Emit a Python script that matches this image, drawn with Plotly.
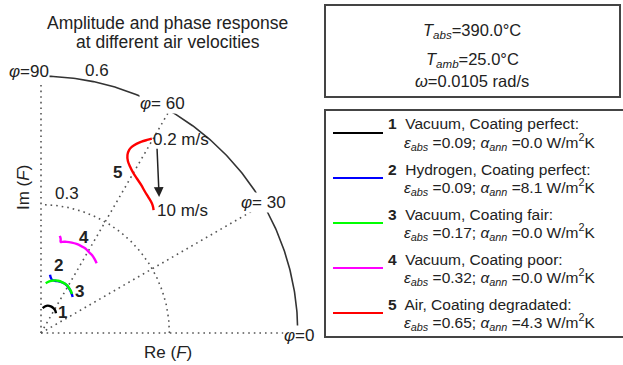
import numpy as np
import plotly.graph_objects as go

# ---------------- data ----------------
# Complex response F (Re, Im) for each case along increasing air velocity
re1 = [0.004, 0.009, 0.016, 0.023, 0.029, 0.033, 0.035]
im1 = [0.058, 0.062, 0.064, 0.062, 0.058, 0.053, 0.046]

re2 = [0.021, 0.025, 0.033, 0.044, 0.056, 0.066, 0.072, 0.074]
im2 = [0.136, 0.125, 0.122, 0.120, 0.115, 0.104, 0.091, 0.084]

re3 = [0.011, 0.018, 0.025, 0.033, 0.040, 0.049, 0.056, 0.062, 0.066, 0.070, 0.072]
im3 = [0.116, 0.120, 0.122, 0.123, 0.122, 0.119, 0.115, 0.110, 0.104, 0.098, 0.091]

re4 = [0.044, 0.046, 0.046, 0.051, 0.060, 0.072, 0.083, 0.094, 0.103, 0.111, 0.119, 0.125, 0.130]
im4 = [0.227, 0.220, 0.213, 0.213, 0.213, 0.211, 0.208, 0.203, 0.198, 0.190, 0.182, 0.173, 0.163]

re5 = [0.259, 0.248, 0.235, 0.223, 0.212, 0.206, 0.202, 0.203, 0.208, 0.215, 0.224, 0.234, 0.243, 0.251, 0.259, 0.262, 0.263]
im5 = [0.454, 0.451, 0.447, 0.442, 0.435, 0.428, 0.416, 0.402, 0.389, 0.375, 0.361, 0.346, 0.330, 0.317, 0.303, 0.294, 0.287]

case_ids = [1, 2, 3, 4, 5]
media = ["Vacuum", "Hydrogen", "Vacuum", "Vacuum", "Air"]
coating = ["perfect", "perfect", "fair", "poor", "degradated"]
eps_abs = [0.09, 0.09, 0.17, 0.32, 0.65]
alpha_ann = [0.0, 8.1, 0.0, 0.0, 4.3]
colors = ["#000000", "#0000ff", "#00ff00", "#ff00ff", "#ff0000"]

grid_radii = [0.3]
outer_radius = 0.6
grid_angles = [0, 30, 60, 90]

T_abs = 390.0
T_amb = 25.0
omega = 0.0105

# ---------------- figure ----------------
W, H = 623, 365
FONT = "Arial, Liberation Sans, sans-serif"
TXT = "#222222"
GRID = "#555555"

def px(x):
    return x / W

def py(y):
    return 1 - y / H

fig = go.Figure()

# grid: dotted radial lines
for a in grid_angles:
    t = np.deg2rad(a)
    fig.add_trace(go.Scatter(x=[0, outer_radius * np.cos(t)], y=[0, outer_radius * np.sin(t)],
                             mode="lines", line=dict(color=GRID, width=1.6, dash="1.6px,4px"),
                             hoverinfo="skip", showlegend=False))
# dotted circle(s)
th = np.linspace(0, np.pi / 2, 200)
for r in grid_radii:
    fig.add_trace(go.Scatter(x=r * np.cos(th), y=r * np.sin(th), mode="lines",
                             line=dict(color=GRID, width=1.6, dash="1.6px,4px"),
                             hoverinfo="skip", showlegend=False))
# solid outer arc
fig.add_trace(go.Scatter(x=outer_radius * np.cos(th), y=outer_radius * np.sin(th), mode="lines",
                         line=dict(color="#333333", width=1.6), hoverinfo="skip", showlegend=False))

# curves
for re_, im_, c in zip([re1, re2, re3, re4, re5], [im1, im2, im3, im4, im5], colors):
    fig.add_trace(go.Scatter(x=re_, y=im_, mode="lines", line=dict(color=c, width=2.4, shape="spline"),
                             showlegend=False))

ann = []

def dlabel(x, y, text, size=17, bold=False, bg=None, xanchor="center"):
    t = f"<b>{text}</b>" if bold else text
    d = dict(x=x, y=y, xref="x", yref="y", text=t, showarrow=False, xanchor=xanchor, yanchor="middle",
             font=dict(family=FONT, size=size, color=TXT))
    if bg:
        d["bgcolor"] = bg
        d["borderpad"] = 0
    ann.append(d)

phi = "<i>φ</i>"
dlabel(-0.028, 0.612, f"{phi}=90", bg="white")
dlabel(0.131, 0.614, "0.6")
dlabel(0.285, 0.537, f"{phi}= 60", bg="white")
dlabel(0.061, 0.327, "0.3")
dlabel(0.519, 0.305, f"{phi}= 30", bg="white")
dlabel(0.603, -0.005, f"{phi}=0", bg="white")

# case number labels
lab_pos = [(0.051, 0.047), (0.040, 0.157), (0.091, 0.096), (0.100, 0.222), (0.178, 0.376)]
for (lx, ly), cid in zip(lab_pos, case_ids):
    dlabel(lx, ly, str(cid), bold=True)

# velocity labels
dlabel(0.257, 0.451, "0.2 m/s", xanchor="left")
dlabel(0.267, 0.287, "10 m/s", xanchor="left")

# arrow
ann.append(dict(x=0.276, y=0.318, ax=0.271, ay=0.434, xref="x", yref="y", axref="x", ayref="y",
                showarrow=True, arrowhead=2, arrowsize=1.3, arrowwidth=1.5, arrowcolor="#222222", text=""))

# title & axis titles
def plabel(x, y, text, size=17, angle=0):
    ann.append(dict(x=px(x), y=py(y), xref="paper", yref="paper", text=text, textangle=angle,
                    xanchor="center", yanchor="middle", showarrow=False,
                    font=dict(family=FONT, size=size, color=TXT)))

plabel(167.5, 23, "Amplitude and phase response", size=17.5)
plabel(167.5, 42, "at different air velocities", size=17.5)
plabel(23, 188, "Im (<i>F</i>)", angle=-90)
plabel(168, 352, "Re (<i>F</i>)")

shapes = []
# parameter box
shapes.append(dict(type="rect", xref="paper", yref="paper", x0=px(325), x1=px(620), y0=py(5), y1=py(97),
                   line=dict(color="#444444", width=2), fillcolor="white", layer="below"))
pb = [f"<i>T</i><sub><i>abs</i></sub>={T_abs:.1f}°C",
      f"<i>T</i><sub><i>amb</i></sub>={T_amb:.1f}°C",
      f"<i>ω</i>={omega:.4f} rad/s"]
for txt, yy in zip(pb, [31, 60, 81]):
    plabel(472, yy, txt, size=16.5)

# legend box
shapes.append(dict(type="rect", xref="paper", yref="paper", x0=px(325), x1=px(640), y0=py(110), y1=py(337),
                   line=dict(color="#444444", width=2), fillcolor="white", layer="below"))
for i in range(5):
    yl = 133 + 45 * i
    shapes.append(dict(type="line", xref="paper", yref="paper", x0=px(333), x1=px(383), y0=py(yl), y1=py(yl),
                       line=dict(color=colors[i], width=2.2)))
    ann.append(dict(x=px(386), y=py(124 + 45 * i), xref="paper", yref="paper", xanchor="left", yanchor="middle",
                    text=f"<b>{case_ids[i]}</b>  {media[i]}, Coating {coating[i]}:", showarrow=False,
                    font=dict(family=FONT, size=15.5, color=TXT)))
    ann.append(dict(x=px(402), y=py(142 + 45 * i), xref="paper", yref="paper", xanchor="left", yanchor="middle",
                    text=(f"<i>ε</i><sub><i>abs</i></sub> ={eps_abs[i]:.2f}; "
                          f"<i>α</i><sub><i>ann</i></sub> ={alpha_ann[i]:.1f} W/m<sup>2</sup>K"),
                    showarrow=False, font=dict(family=FONT, size=15.5, color=TXT)))

x0 = -41 / 428
x1 = (W - 41) / 428
y0 = (333 - H) / 428
y1 = 333 / 428
fig.update_layout(
    width=W, height=H, autosize=False,
    margin=dict(l=0, r=0, t=0, b=0),
    paper_bgcolor="white", plot_bgcolor="white",
    xaxis=dict(range=[x0, x1], visible=False, fixedrange=True),
    yaxis=dict(range=[y0, y1], visible=False, fixedrange=True),
    annotations=ann, shapes=shapes, showlegend=False,
)

fig.write_html("out.html")
